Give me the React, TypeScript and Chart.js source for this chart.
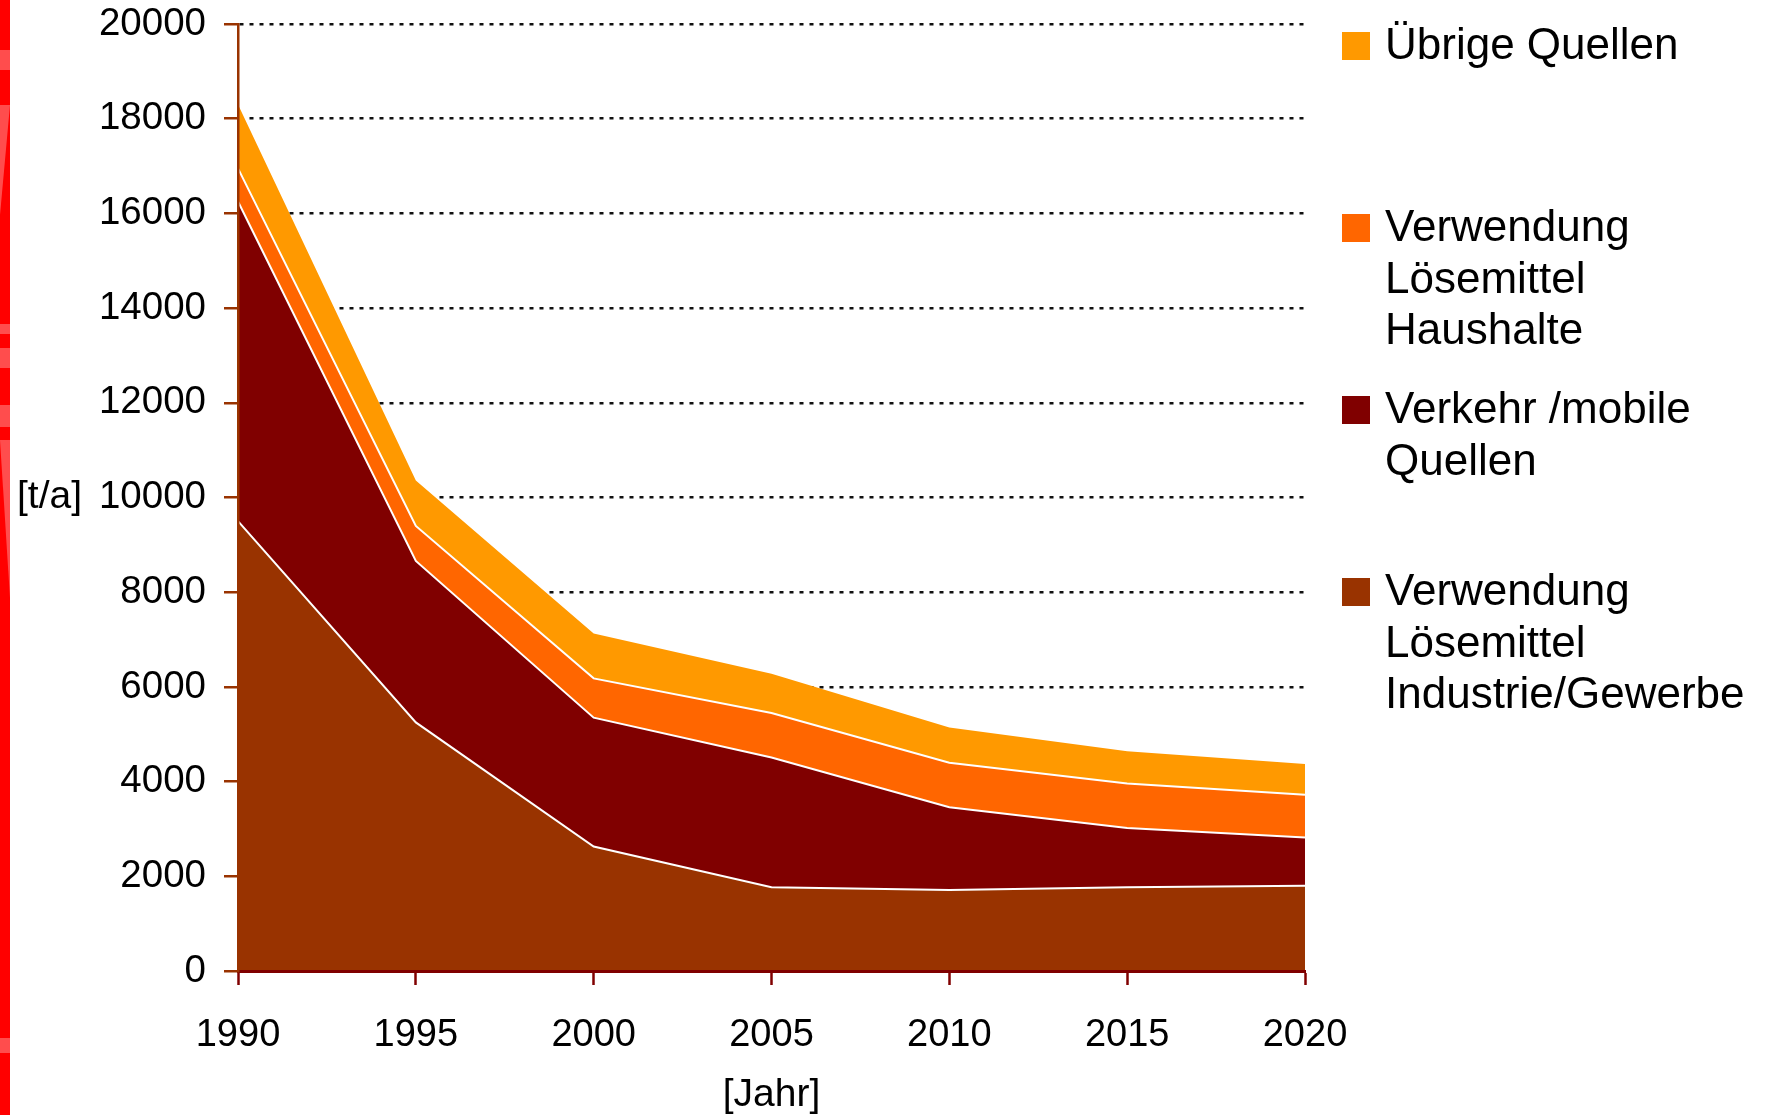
import React, { useEffect, useRef } from 'react';
import { Chart, registerables } from 'chart.js';

Chart.register(...registerables);

// ---- data ----
const years: string[] = ['1990', '1995', '2000', '2005', '2010', '2015', '2020'];
const industrieGewerbe: number[] = [9500, 5250, 2630, 1770, 1710, 1770, 1800];
const verkehrMobile: number[] = [6750, 3410, 2720, 2740, 1750, 1250, 1020];
const haushalte: number[] = [700, 740, 830, 940, 940, 940, 900];
const uebrigeQuellen: number[] = [1350, 960, 950, 830, 740, 680, 650];

const seriesLines: string[][] = [
  ['Verwendung', 'Lösemittel', 'Industrie/Gewerbe'],
  ['Verkehr /mobile', 'Quellen'],
  ['Verwendung', 'Lösemittel', 'Haushalte'],
  ['Übrige Quellen'],
];
const seriesColors: string[] = ['#993300', '#800000', '#FF6600', '#FF9900'];

const yMin = 0;
const yMax = 20000;
const yStep = 2000;
const yTitle = '[t/a]';
const xTitle = '[Jahr]';

const FONT = '"Liberation Sans", Arial, Helvetica, sans-serif';

const overlayPlugin = {
  id: 'overlayText',
  afterDraw(chart: any) {
    const ctx = chart.ctx as CanvasRenderingContext2D;
    const area = chart.chartArea;
    ctx.save();
    ctx.fillStyle = '#000';
    ctx.font = `39px ${FONT}`;
    ctx.textBaseline = 'middle';
    ctx.textAlign = 'left';
    ctx.fillText(yTitle, 17, (area.top + area.bottom) / 2);
    ctx.textAlign = 'center';
    ctx.fillText(xTitle, (area.left + area.right) / 2, 1095);

    // legend (top to bottom: reverse of stacking order)
    ctx.font = `44px ${FONT}`;
    ctx.textBaseline = 'alphabetic';
    ctx.textAlign = 'left';
    const order = [3, 2, 1, 0];
    order.forEach((dsIndex, i) => {
      const ds = chart.data.datasets[dsIndex];
      const base = 59 + i * 182;
      ctx.fillStyle = ds.backgroundColor;
      ctx.fillRect(1342, base - 27, 28, 28);
      ctx.fillStyle = '#000';
      seriesLines[dsIndex].forEach((line, j) => {
        ctx.fillText(line, 1385, base + j * 51.5);
      });
    });
    ctx.restore();
  },
};

const light = 'rgba(255,255,255,0.3)';

export default function App() {
  const canvasRef = useRef<HTMLCanvasElement | null>(null);

  useEffect(() => {
    if (!canvasRef.current) return;
    const values = [industrieGewerbe, verkehrMobile, haushalte, uebrigeQuellen];
    const chart = new Chart(canvasRef.current, {
      type: 'line',
      data: {
        labels: years,
        datasets: values.map((vals, i) => ({
          label: seriesLines[i].join(' '),
          data: vals,
          backgroundColor: seriesColors[i],
          borderColor: i === values.length - 1 ? 'rgba(0,0,0,0)' : '#FFFFFF',
          borderWidth: i === values.length - 1 ? 0 : 2,
          fill: i === 0 ? 'origin' : '-1',
          pointRadius: 0,
          tension: 0,
        })),
      },
      options: {
        responsive: false,
        animation: false,
        layout: { padding: { left: 0, top: 24, right: 462, bottom: 0 } },
        plugins: {
          legend: { display: false },
          tooltip: { enabled: false },
        },
        scales: {
          x: {
            type: 'category',
            offset: false,
            grid: {
              drawOnChartArea: false,
              drawTicks: true,
              tickLength: 14,
              tickColor: '#800000',
              tickWidth: 2.5,
            },
            border: { display: true, color: '#800000', width: 3, z: 1 },
            ticks: {
              font: { family: FONT, size: 38 },
              color: '#000',
              padding: 28,
              maxRotation: 0,
              autoSkip: false,
            },
            afterFit: (s: any) => {
              s.height = 144;
              s.paddingLeft = 0;
              s.paddingRight = 0;
            },
          },
          y: {
            stacked: true,
            min: yMin,
            max: yMax,
            ticks: {
              stepSize: yStep,
              callback: (v: any) => String(v),
              font: { family: FONT, size: 38.5 },
              color: '#000',
              padding: 18,
            },
            grid: {
              color: '#111',
              lineWidth: 2.5,
              tickLength: 14,
              tickColor: '#993300',
              tickWidth: 2.5,
            },
            border: { display: true, color: '#993300', width: 2.5, dash: [4, 6], z: 1 },
            afterFit: (s: any) => {
              s.width = 238;
              s.paddingTop = 0;
              s.paddingBottom = 0;
            },
          },
        },
      } as any,
      plugins: [overlayPlugin],
    });
    return () => chart.destroy();
  }, []);

  return (
    <div style={{ position: 'absolute', left: 0, top: 0, width: 1767, height: 1115, background: '#fff', overflow: 'hidden' }}>
      <div style={{ position: 'absolute', left: 0, top: 0, width: 10, height: 1115, background: '#FF0000', overflow: 'hidden' }}>
        <div style={{ position: 'absolute', left: 0, top: 50, width: 10, height: 20, background: light }} />
        <div style={{ position: 'absolute', left: 0, top: 105, width: 10, height: 110, background: light, clipPath: 'polygon(0 0, 100% 0, 0 100%)' }} />
        <div style={{ position: 'absolute', left: 0, top: 324, width: 10, height: 10, background: light }} />
        <div style={{ position: 'absolute', left: 0, top: 348, width: 10, height: 20, background: light }} />
        <div style={{ position: 'absolute', left: 0, top: 405, width: 10, height: 22, background: light }} />
        <div style={{ position: 'absolute', left: 0, top: 440, width: 10, height: 158, background: light, clipPath: 'polygon(0 0, 100% 0, 100% 100%)' }} />
        <div style={{ position: 'absolute', left: 0, top: 1038, width: 10, height: 15, background: light }} />
      </div>
      <canvas ref={canvasRef} width={1767} height={1115} style={{ position: 'absolute', left: 0, top: 0, width: 1767, height: 1115 }} />
    </div>
  );
}
